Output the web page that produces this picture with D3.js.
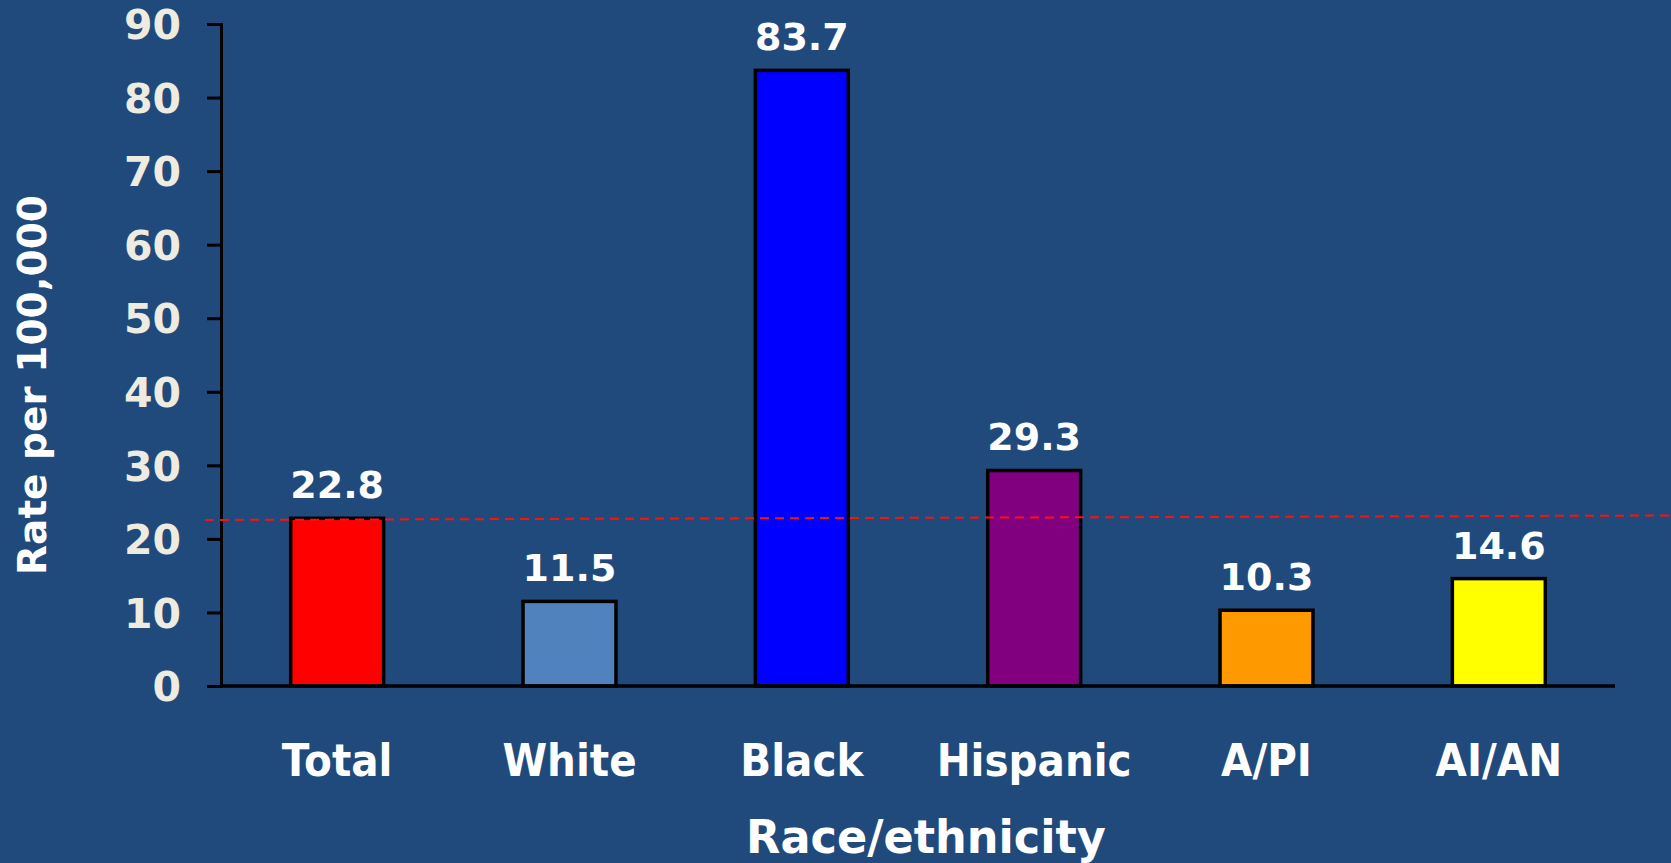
<!DOCTYPE html>
<html>
<head>
<meta charset="utf-8">
<script src="https://cdn.jsdelivr.net/npm/d3@7"></script>
<style>
    html, body { margin: 0; padding: 0; background: #204a7c; }
    svg { display: block; }
    text { font-family: "DejaVu Sans", Verdana, sans-serif; font-weight: bold; }
</style>
</head>
<body>
<div id="chart"></div>
<script>
// chart data
const categories = ['Total', 'White', 'Black', 'Hispanic', 'A/PI', 'AI/AN'];
const rates = [22.8, 11.5, 83.7, 29.3, 10.3, 14.6];
const barColors = ['#ff0000', '#5083be', '#0000ff', '#800080', '#ff9900', '#ffff00'];
const yTicks = [0, 10, 20, 30, 40, 50, 60, 70, 80, 90];
const referenceRate = 22.8;

let width = 1671,
    height = 863;
let margin = {top: 24, right: 56, bottom: 177, left: 221};

let svg = d3.select('#chart')
    .append('svg')
    .attr('width', width)
    .attr('height', height);

svg.append('rect')
    .attr('width', width)
    .attr('height', height)
    .attr('fill', '#204a7c');

let x = d3.scaleBand()
    .domain(categories)
    .range([margin.left, width - margin.right])
    .paddingInner(0.6)
    .paddingOuter(0.3);

let y = d3.scaleLinear()
    .domain([0, 90])
    .range([height - margin.bottom, margin.top]);

// y axis
let yAxis = svg.append('g')
    .attr('transform', 'translate(' + margin.left + ',0)')
    .call(d3.axisLeft(y).tickValues(yTicks).tickSize(14).tickPadding(26));
yAxis.select('.domain').attr('stroke', '#000').attr('stroke-width', 3);
yAxis.selectAll('.tick line').attr('stroke', '#000').attr('stroke-width', 3);
yAxis.selectAll('.tick text')
    .attr('fill', '#eeebe0')
    .attr('font-size', 41)
    .attr('dy', '0.36em');
yAxis.attr('font-family', null);

// bars
svg.selectAll('rect.bar')
    .data(categories)
    .enter()
    .append('rect')
    .attr('class', 'bar')
    .attr('x', d => x(d))
    .attr('width', x.bandwidth())
    .attr('y', (d, i) => y(rates[i]))
    .attr('height', (d, i) => y(0) - y(rates[i]))
    .attr('fill', (d, i) => barColors[i])
    .attr('stroke', '#000')
    .attr('stroke-width', 3.5);

// x axis line
svg.append('line')
    .attr('x1', margin.left)
    .attr('x2', width - margin.right)
    .attr('y1', y(0))
    .attr('y2', y(0))
    .attr('stroke', '#000')
    .attr('stroke-width', 3.5);

// reference line (slightly tilted as in the original)
svg.append('line')
    .attr('x1', 205)
    .attr('x2', width)
    .attr('y1', y(referenceRate) + 1.7)
    .attr('y2', y(referenceRate) - 2.8)
    .attr('stroke', '#ff1010')
    .attr('stroke-width', 2)
    .attr('stroke-dasharray', '9,6');

// value labels
svg.selectAll('text.value')
    .data(categories)
    .enter()
    .append('text')
    .attr('class', 'value')
    .attr('x', d => x(d) + x.bandwidth() / 2)
    .attr('y', (d, i) => y(rates[i]) - 20)
    .attr('text-anchor', 'middle')
    .attr('fill', '#ffffff')
    .attr('font-size', 38)
    .text((d, i) => rates[i].toFixed(1));

// category labels (narrower, taller glyphs like the original)
svg.selectAll('text.cat')
    .data(categories)
    .enter()
    .append('text')
    .attr('class', 'cat')
    .attr('transform', d => 'translate(' + (x(d) + x.bandwidth() / 2) + ',776) scale(0.9,1)')
    .attr('text-anchor', 'middle')
    .attr('fill', '#ffffff')
    .attr('font-size', 45)
    .text(d => d);

// axis titles
svg.append('text')
    .attr('transform', 'translate(926,853) scale(0.97,1)')
    .attr('text-anchor', 'middle')
    .attr('fill', '#ffffff')
    .attr('font-size', 46)
    .text('Race/ethnicity');

svg.append('text')
    .attr('transform', 'translate(46,385) rotate(-90)')
    .attr('text-anchor', 'middle')
    .attr('fill', '#ffffff')
    .attr('font-size', 39)
    .text('Rate per 100,000');
</script>
</body>
</html>
